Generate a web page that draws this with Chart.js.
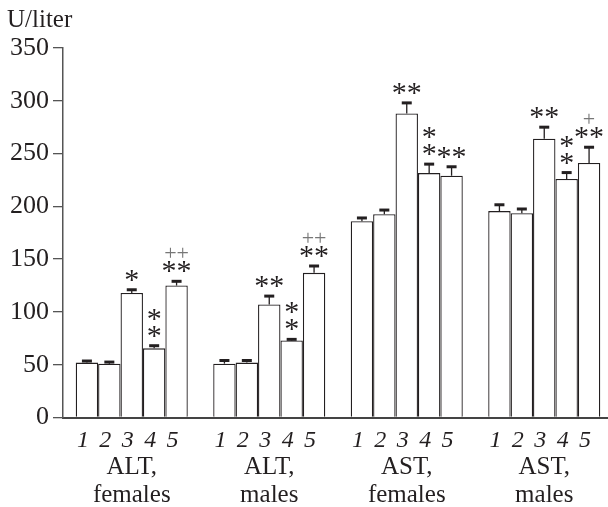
<!DOCTYPE html>
<html>
<head>
<meta charset="utf-8">
<script src="https://cdn.jsdelivr.net/npm/chart.js@4"></script>
<style>
  html, body { margin: 0; padding: 0; background: #fff; overflow: hidden; }
  #wrap { width: 620px; height: 507px; }
</style>
</head>
<body>
<div id="wrap"><canvas id="chart" width="620" height="507"></canvas></div>
<script>
// groupes (axe x)
const groups = [["ALT,", "females"], ["ALT,", "males"], ["AST,", "females"], ["AST,", "males"]];
const barNumbers = ["1", "2", "3", "4", "5"];

// valeurs moyennes, U/liter, barres 1..5 de chaque groupe
const altFemales = [52, 51, 118, 65.5, 125];
const altMales = [51, 52, 107, 73, 137];
const astFemales = [186, 192.5, 288, 231.5, 229];
const astMales = [195.5, 193.5, 264, 226, 241];

// erreurs (vers le haut seulement)
const errAltFemales = [1.5, 1.5, 3, 2.5, 4];
const errAltMales = [3, 2, 8, 1, 6.5];
const errAstFemales = [3, 4, 10, 8.5, 8.5];
const errAstMales = [6, 4, 11, 6, 15];

// marques de signification
const starsAltFemales = ["", "", "*", "*\n*", "**"];
const starsAltMales = ["", "", "**", "*\n*", "**"];
const starsAstFemales = ["", "", "**", "*\n*", "**"];
const starsAstMales = ["", "", "**", "*\n*", "**"];
const plusAltFemales = ["", "", "", "", "++"];
const plusAltMales = ["", "", "", "", "++"];
const plusAstFemales = ["", "", "", "", ""];
const plusAstMales = ["", "", "", "", "+"];

const yTicks = [0, 50, 100, 150, 200, 250, 300, 350];

const values = [altFemales, altMales, astFemales, astMales];
const errors = [errAltFemales, errAltMales, errAstFemales, errAstMales];
const stars = [starsAltFemales, starsAltMales, starsAstFemales, starsAstMales];
const pluses = [plusAltFemales, plusAltMales, plusAstFemales, plusAstMales];

const SERIF = "'Liberation Serif', 'Times New Roman', serif";
const INK = "#231f20";

// un dataset par numéro de barre
const datasets = barNumbers.map((n, i) => ({
  label: n,
  data: values.map((g) => g[i]),
  backgroundColor: "#ffffff",
  borderColor: INK,
  borderWidth: 1.3,
}));

const extras = {
  id: "extras",
  afterDatasetsDraw(chart) {
    const ctx = chart.ctx;
    const y = chart.scales.y;
    ctx.save();
    chart.data.datasets.forEach((ds, i) => {
      const meta = chart.getDatasetMeta(i);
      meta.data.forEach((bar, g) => {
        const top = y.getPixelForValue(values[g][i] + errors[g][i]);
        // barre d'erreur
        ctx.strokeStyle = INK;
        ctx.lineWidth = 1.3;
        ctx.beginPath();
        ctx.moveTo(bar.x, bar.y);
        ctx.lineTo(bar.x, top);
        ctx.stroke();
        ctx.lineWidth = 3;
        ctx.beginPath();
        ctx.moveTo(bar.x - 5, top);
        ctx.lineTo(bar.x + 5, top);
        ctx.stroke();
        // étoiles
        ctx.fillStyle = INK;
        ctx.textAlign = "center";
        ctx.textBaseline = "alphabetic";
        ctx.font = "30px " + SERIF;
        const lines = stars[g][i] ? stars[g][i].split("\n") : [];
        let yy = top - 1;
        for (let k = lines.length - 1; k >= 0; k--) {
          ctx.fillText(lines[k], bar.x, yy);
          yy -= 17;
        }
        if (pluses[g][i]) {
          ctx.fillStyle = "#777";
          ctx.font = "22px " + SERIF;
          ctx.fillText(pluses[g][i], bar.x, top - 21);
        }
        // numéro sous la barre
        ctx.fillStyle = INK;
        ctx.font = "italic 24px " + SERIF;
        ctx.textBaseline = "middle";
        ctx.fillText(ds.label, bar.x - 4, 441);
      });
    });
    ctx.fillStyle = INK;
    ctx.font = "25px " + SERIF;
    ctx.textAlign = "left";
    ctx.textBaseline = "alphabetic";
    ctx.fillText("U/liter", 7, 27);
    ctx.restore();
  },
};

new Chart(document.getElementById("chart"), {
  type: "bar",
  data: { labels: groups, datasets: datasets },
  options: {
    responsive: false,
    devicePixelRatio: 1,
    animation: false,
    layout: { padding: { top: 48, right: 7, left: 0, bottom: 0 } },
    datasets: { bar: { categoryPercentage: 0.815, barPercentage: 1 } },
    plugins: { legend: { display: false }, tooltip: { enabled: false } },
    scales: {
      x: {
        grid: { display: false, drawTicks: false },
        border: { color: "#444", width: 2 },
        ticks: {
          color: INK,
          padding: 36,
          maxRotation: 0,
          font: { family: SERIF, size: 25, lineHeight: 1.12 },
        },
        afterFit: (s) => { s.height = 89.5; },
      },
      y: {
        min: 0,
        max: 350,
        afterBuildTicks: (s) => { s.ticks = yTicks.map((v) => ({ value: v })); },
        grid: { drawOnChartArea: false, tickLength: 10, color: "#555", lineWidth: 1.3 },
        border: { color: "#555", width: 1.5 },
        ticks: {
          color: INK,
          padding: 4,
          font: { family: SERIF, size: 26 },
        },
        afterFit: (s) => { s.width = 63; },
      },
    },
  },
  plugins: [extras],
});
</script>
</body>
</html>
